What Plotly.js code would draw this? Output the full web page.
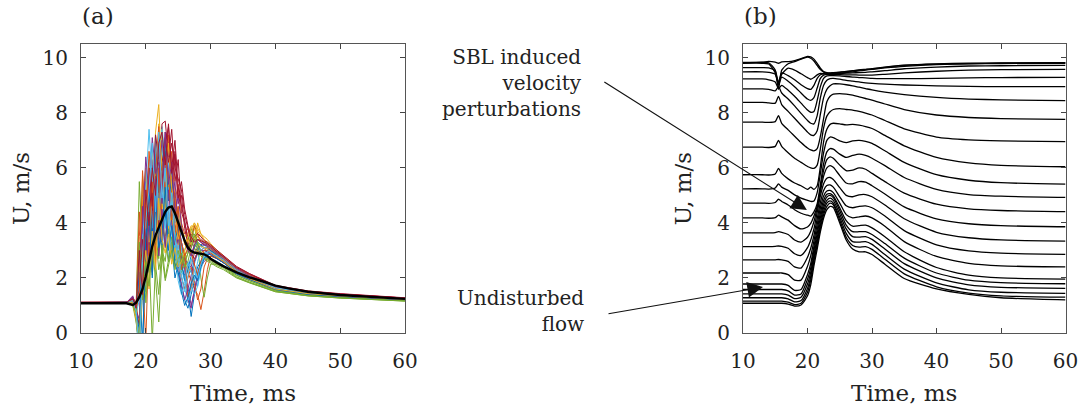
<!DOCTYPE html>
<html>
<head>
<meta charset="utf-8">
<script src="https://cdn.plot.ly/plotly-3.0.1.min.js"></script>
<style>html,body{margin:0;padding:0;background:#fff;}#chart{width:1085px;height:414px;}</style>
</head>
<body>
<div id="chart"></div>
<script>
// ---------- Panel (a): individual realisations and their mean ----------
const tA = [10,17,18,18.5,19,19.5,20,20.5,21,21.5,22,22.5,23,23.5,24,24.5,25,25.5,26,26.5,27,27.5,28,28.5,29,29.5,30,31,32,34,36,40,45,50,60];
const runA01 = [1.10,1.10,1.15,0.6,-0.5,2.8,4.5,3.2,5.6,4.1,6.2,3.8,5.0,3.5,4.3,2.9,3.6,2.4,2.1,1.5,0.6,1.4,2.2,2.6,2.9,3.0,2.95,2.75,2.6,2.25,2.0,1.62,1.45,1.36,1.22];
const runA02 = [1.10,1.12,1.25,0.9,3.5,5.2,2.6,4.8,3.3,6.4,4.6,7.1,5.3,6.0,4.4,5.1,3.8,3.1,2.6,2.2,1.9,1.6,1.4,0.85,1.5,2.3,2.8,2.7,2.55,2.2,1.95,1.6,1.42,1.33,1.2];
const runA03 = [1.08,1.10,1.20,1.0,1.8,4.6,3.1,5.5,4.0,7.3,8.3,5.6,6.8,4.9,5.7,4.2,4.6,3.7,3.4,3.1,3.6,4.0,3.7,3.5,3.4,3.3,3.2,2.95,2.75,2.35,2.1,1.7,1.5,1.4,1.25];
const runA04 = [1.10,1.10,1.35,0.7,-0.3,3.9,2.2,5.1,3.6,4.4,6.9,5.2,4.7,6.1,3.9,4.6,3.2,2.8,2.3,1.7,1.0,1.5,2.0,2.4,2.6,2.7,2.65,2.5,2.4,2.15,1.95,1.6,1.43,1.34,1.21];
const runA05 = [1.10,1.10,1.05,0.8,5.5,3.0,4.2,2.5,3.9,3.2,4.8,2.7,3.5,4.2,3.0,3.6,2.8,3.1,2.6,2.9,3.3,3.9,3.2,2.0,1.3,2.0,2.5,2.5,2.4,2.1,1.9,1.55,1.38,1.3,1.18];
const runA06 = [1.10,1.11,1.20,0.9,2.2,5.6,3.7,6.3,4.9,7.0,5.3,7.5,6.2,5.0,6.1,4.0,4.5,3.0,2.4,1.1,1.6,2.3,1.7,2.5,2.8,3.0,3.0,2.85,2.7,2.3,2.05,1.66,1.48,1.4,1.26];
const runA07 = [1.12,1.12,1.20,0.95,2.4,4.1,5.9,3.5,4.8,6.7,5.1,7.6,7.7,6.4,7.4,5.5,6.3,4.4,4.0,3.5,3.1,3.4,3.5,3.4,3.3,3.25,3.15,2.95,2.8,2.4,2.15,1.72,1.52,1.42,1.27];
const runA08 = [1.09,1.10,1.15,1.0,1.3,2.0,3.4,2.6,4.7,3.9,5.4,4.6,6.6,5.1,5.9,4.3,4.0,3.3,2.8,2.4,2.2,2.6,3.0,3.2,3.3,3.2,3.1,2.9,2.75,2.3,2.05,1.65,1.47,1.38,1.24];
const runA09 = [1.10,1.10,1.30,1.1,0.2,2.4,5.8,3.9,2.7,4.6,3.4,5.8,4.2,5.5,6.6,4.8,5.4,4.0,3.6,3.8,3.4,3.9,3.6,3.3,3.2,3.15,3.1,2.9,2.7,2.3,2.05,1.65,1.46,1.37,1.23];
const runA10 = [1.10,1.11,1.10,0.7,-0.4,3.3,5.0,2.8,4.2,6.0,3.5,7.4,4.8,5.6,3.7,4.9,3.3,2.6,3.0,2.2,2.6,3.0,4.0,3.6,3.4,3.25,3.1,2.85,2.7,2.3,2.05,1.64,1.46,1.37,1.23];
const runA11 = [1.10,1.10,1.25,0.9,3.1,1.6,4.3,3.0,5.5,3.9,4.7,3.3,5.9,4.4,3.7,2.8,3.5,2.7,2.4,1.2,0.9,1.6,2.1,2.5,2.8,2.9,2.9,2.75,2.6,2.25,2.0,1.62,1.44,1.35,1.21];
const runA12 = [1.10,1.09,1.0,0.85,1.4,2.9,2.1,4.0,2.7,3.6,2.3,3.0,2.6,3.8,2.9,3.3,2.5,2.9,3.0,3.4,3.8,3.5,3.2,3.0,2.9,2.8,2.7,2.55,2.45,2.1,1.9,1.55,1.38,1.3,1.18];
const runA13 = [1.10,1.10,1.20,0.6,-0.6,4.4,2.9,6.1,3.8,7.2,5.9,6.8,4.5,5.3,3.6,2.7,3.2,2.1,1.6,1.2,1.9,2.5,2.9,3.1,3.2,3.1,3.0,2.85,2.7,2.3,2.05,1.66,1.48,1.39,1.26];
const runA14 = [1.11,1.12,1.25,0.8,1.9,5.0,3.3,4.6,6.1,4.2,7.0,5.6,7.3,6.9,5.2,6.6,4.7,5.0,3.8,3.2,2.8,3.2,3.4,3.3,3.2,3.2,3.1,2.9,2.75,2.35,2.1,1.7,1.5,1.41,1.27];
const runA15 = [1.10,1.10,1.2,0.5,-0.8,1.5,3.0,2.2,3.8,2.8,4.0,3.0,4.4,2.6,3.2,2.0,2.5,1.7,1.2,0.9,1.4,1.9,2.4,2.6,2.7,2.75,2.7,2.6,2.45,2.15,1.95,1.58,1.4,1.32,1.2];
const runA16 = [1.10,1.11,1.15,1.0,2.6,1.7,4.6,3.5,5.2,2.9,4.9,3.6,5.8,4.1,3.0,3.9,2.6,2.0,1.6,2.0,2.4,1.8,1.2,1.6,2.4,2.7,2.8,2.7,2.55,2.2,1.98,1.6,1.43,1.34,1.21];
const runA17 = [1.10,1.10,1.05,1.1,2.0,5.7,3.4,4.7,2.5,3.9,6.3,4.5,5.1,3.8,4.4,3.4,4.0,3.8,3.5,3.6,3.9,3.8,3.5,3.35,3.3,3.2,3.1,2.9,2.75,2.35,2.08,1.68,1.49,1.39,1.24];
const runA18 = [1.10,1.10,1.30,1.0,2.0,3.2,5.5,4.0,6.3,4.9,5.6,7.0,5.9,6.6,4.8,5.5,3.9,3.3,2.7,2.5,2.4,2.9,3.1,3.2,3.2,3.15,3.05,2.85,2.7,2.3,2.05,1.64,1.46,1.37,1.23];
const runA19 = [1.09,1.10,1.00,0.4,-0.5,2.3,1.5,3.2,2.1,3.6,2.7,4.3,3.3,2.6,3.5,2.4,2.9,2.2,2.5,2.9,3.4,3.1,2.9,2.8,2.75,2.7,2.65,2.5,2.4,2.05,1.85,1.52,1.36,1.28,1.17];
const runA20 = [1.10,1.11,1.25,0.9,1.7,3.6,2.4,4.8,5.9,3.7,6.6,7.4,5.5,6.2,4.6,3.5,2.9,2.3,1.9,1.4,1.7,1.4,1.7,2.3,2.7,2.9,2.95,2.8,2.65,2.28,2.03,1.65,1.47,1.38,1.25];
const runA21 = [1.11,1.11,1.15,0.7,0.3,1.8,3.8,2.6,4.4,5.7,3.9,6.2,6.9,7.5,6.0,7.0,5.3,4.6,4.1,3.3,2.9,2.7,2.9,3.0,3.1,3.1,3.0,2.8,2.65,2.28,2.03,1.65,1.47,1.38,1.24];
const runA22 = [1.10,1.10,1.18,0.8,0.1,-0.4,2.6,5.3,3.1,6.5,4.4,5.7,7.0,4.8,5.6,3.3,3.9,2.6,1.9,2.3,2.8,3.1,3.3,3.2,3.1,3.05,3.0,2.85,2.7,2.3,2.05,1.66,1.48,1.39,1.25];
const runA23 = [1.10,1.11,1.22,0.95,4.4,2.1,-0.3,3.6,5.9,2.4,6.0,4.2,4.9,7.2,5.0,3.7,4.6,2.3,2.9,1.3,1.7,2.6,3.0,2.9,3.0,3.0,2.9,2.75,2.6,2.25,2.0,1.62,1.45,1.36,1.22];
const runA24 = [1.10,1.10,1.15,0.9,2.9,4.9,6.0,3.3,6.7,5.0,7.6,6.1,4.4,6.9,5.3,4.5,3.4,3.9,3.2,3.5,3.8,4.0,3.8,3.6,3.5,3.4,3.25,3.0,2.8,2.38,2.12,1.7,1.5,1.4,1.25];
const runA25 = [1.10,1.10,1.28,0.8,0.5,4.6,1.9,4.1,2.2,5.6,2.8,4.5,3.1,5.2,4.0,3.1,2.2,1.8,1.2,1.6,2.1,2.6,2.9,3.0,3.0,2.95,2.85,2.7,2.55,2.2,1.97,1.6,1.43,1.34,1.21];
const runA26 = [1.10,1.10,1.00,0.6,-0.2,3.5,1.1,2.8,-0.3,2.5,1.4,3.2,2.0,2.7,3.3,2.6,3.0,2.5,2.8,3.0,3.6,3.4,3.0,2.8,2.7,2.65,2.6,2.45,2.35,2.02,1.83,1.5,1.35,1.27,1.16];
const runA27 = [1.10,1.11,1.22,0.7,1.2,3.2,5.2,7.4,5.5,6.8,4.1,5.9,3.8,4.6,2.7,3.2,1.9,1.4,1.8,2.6,2.2,1.9,2.6,3.0,3.1,3.1,3.05,2.9,2.72,2.32,2.06,1.66,1.48,1.39,1.26];
const runA28 = [1.11,1.12,1.22,1.0,1.6,3.4,2.5,6.0,4.6,7.2,6.3,5.4,7.1,6.2,6.9,6.0,5.6,5.2,4.3,3.8,3.3,3.5,3.6,3.5,3.35,3.3,3.2,3.0,2.82,2.42,2.16,1.73,1.53,1.43,1.28];
const runA29 = [1.10,1.10,1.12,0.9,2.2,-0.5,3.5,4.4,2.0,5.0,3.1,3.6,5.3,3.0,3.9,2.5,2.2,1.5,1.0,1.3,1.8,2.1,1.9,2.4,2.7,2.85,2.85,2.7,2.55,2.2,1.97,1.6,1.42,1.34,1.21];
const runA30 = [1.10,1.10,1.20,0.85,1.5,5.9,3.8,6.6,5.1,5.8,7.5,5.2,6.4,5.7,4.1,4.9,3.6,3.3,2.8,3.1,2.9,2.5,2.1,2.6,3.0,3.1,3.05,2.88,2.7,2.3,2.05,1.65,1.47,1.38,1.24];
const runA31 = [1.10,1.10,1.10,0.5,-0.6,1.8,3.0,1.6,3.7,2.3,4.9,3.4,2.9,3.6,2.5,3.1,2.4,2.6,3.0,3.4,3.2,3.5,3.3,3.15,3.1,3.05,2.95,2.75,2.6,2.22,1.98,1.6,1.43,1.35,1.22];
const runA32 = [1.10,1.10,1.32,0.9,2.7,3.9,6.4,5.0,7.1,5.8,6.2,4.7,7.3,5.4,6.2,4.3,5.0,3.9,3.3,3.0,2.8,3.2,3.4,3.3,3.25,3.2,3.1,2.9,2.75,2.35,2.08,1.68,1.49,1.39,1.24];
const runA33 = [1.09,1.09,1.02,0.75,3.3,1.2,2.6,1.7,3.1,2.0,0.4,2.8,1.9,2.4,3.0,2.3,2.7,2.9,2.4,2.6,3.1,3.6,3.3,2.9,2.7,2.6,2.55,2.4,2.3,2.0,1.82,1.5,1.35,1.27,1.16];
const runA34 = [1.10,1.10,1.18,0.8,-0.7,2.6,4.1,5.2,6.9,4.4,7.3,4.9,6.0,3.9,5.1,3.4,2.6,2.0,1.5,2.1,2.7,2.3,2.0,2.5,2.8,2.95,2.95,2.8,2.65,2.28,2.03,1.64,1.47,1.38,1.25];
const runA35 = [1.11,1.11,1.25,0.9,3.0,1.4,5.2,3.9,6.0,5.0,6.9,7.3,6.1,7.6,5.8,6.5,4.9,5.5,4.5,3.9,3.5,3.3,3.4,3.35,3.3,3.25,3.15,2.95,2.78,2.38,2.13,1.71,1.51,1.41,1.27];
const tMean = [10,17,18,18.5,19,19.5,20,20.5,21,21.5,22,22.5,23,23.5,24,24.5,25,25.5,26,26.5,27,27.5,28,28.5,29,29.5,30,31,32,34,36,38,40,42,45,50,55,60];
const meanA = [1.08,1.08,1.02,1.1,1.3,1.6,2.05,2.65,3.15,3.55,3.85,4.15,4.4,4.56,4.6,4.35,4.0,3.65,3.35,3.1,2.98,2.92,2.9,2.88,2.86,2.8,2.7,2.55,2.42,2.2,2.02,1.88,1.72,1.62,1.5,1.38,1.3,1.24];

// ---------- Panel (b): velocity at increasing heights ----------
const tB = [10,13,14,15,15.5,16,17,18,19,20,20.5,21,21.5,22,22.5,23,23.5,24,25,26,27,28,29,30,32,35,40,45,50,60];
const b00 = [9.83,9.84,9.87,9.84,9.80,9.85,9.86,9.90,9.97,10.05,10.03,9.95,9.80,9.62,9.50,9.46,9.45,9.46,9.48,9.50,9.53,9.56,9.58,9.60,9.66,9.73,9.78,9.80,9.81,9.82];
const b01 = [9.82,9.83,9.82,9.55,8.85,9.55,9.78,9.86,9.95,10.02,9.98,9.88,9.72,9.57,9.48,9.44,9.44,9.45,9.47,9.49,9.52,9.55,9.57,9.59,9.65,9.72,9.77,9.79,9.80,9.81];
const b02 = [9.80,9.80,9.78,9.45,9.05,9.40,9.62,9.55,9.42,9.28,9.22,9.28,9.38,9.43,9.42,9.41,9.41,9.42,9.44,9.46,9.49,9.52,9.55,9.58,9.63,9.69,9.75,9.78,9.79,9.80];
const b03 = [9.64,9.64,9.63,9.52,9.10,9.45,9.35,9.20,9.02,8.88,8.85,9.00,9.25,9.38,9.42,9.41,9.41,9.42,9.43,9.44,9.45,9.46,9.47,9.49,9.53,9.60,9.66,9.70,9.71,9.72];
const b04 = [9.49,9.49,9.47,9.40,9.00,9.30,9.15,8.95,8.72,8.50,8.45,8.55,8.90,9.25,9.37,9.40,9.40,9.40,9.39,9.38,9.38,9.37,9.37,9.37,9.40,9.45,9.51,9.55,9.57,9.58];
const b05 = [9.23,9.23,9.20,9.12,8.88,9.00,8.82,8.60,8.35,8.10,8.02,8.05,8.45,8.95,9.25,9.34,9.35,9.35,9.34,9.32,9.30,9.28,9.27,9.25,9.24,9.24,9.25,9.27,9.28,9.29];
const b06 = [8.87,8.87,8.85,8.80,8.95,8.72,8.50,8.25,7.98,7.72,7.62,7.60,7.90,8.55,9.00,9.18,9.24,9.25,9.22,9.18,9.15,9.12,9.09,9.07,9.04,9.01,8.98,8.96,8.95,8.95];
const b07 = [8.38,8.38,8.36,8.35,8.60,8.30,8.05,7.80,7.55,7.30,7.20,7.18,7.35,7.95,8.55,8.85,8.98,9.05,9.05,9.02,8.98,8.93,8.88,8.83,8.75,8.66,8.56,8.50,8.47,8.44];
const b08 = [7.66,7.66,7.65,7.68,7.90,7.62,7.38,7.15,6.92,6.72,6.65,6.62,6.70,7.15,7.80,8.40,8.60,8.68,8.70,8.68,8.64,8.58,8.52,8.46,8.32,8.12,7.92,7.83,7.79,7.76];
const b09 = [6.75,6.75,6.74,6.78,7.00,6.78,6.55,6.35,6.20,6.05,6.00,5.98,6.10,6.70,7.45,7.88,8.04,8.12,8.15,8.12,8.10,8.05,7.99,7.92,7.72,7.42,7.12,7.02,6.98,6.95];
const b10 = [5.75,5.75,5.74,5.78,5.98,5.80,5.60,5.45,5.35,5.22,5.30,5.22,5.35,6.05,6.95,7.40,7.58,7.62,7.60,7.56,7.58,7.55,7.50,7.43,7.18,6.80,6.38,6.18,6.09,6.04];
const b11 = [5.24,5.24,5.23,5.27,5.42,5.30,5.18,5.02,4.90,4.82,4.78,4.80,5.10,5.80,6.55,7.00,7.12,7.10,6.98,6.92,6.98,7.00,6.96,6.89,6.62,6.20,5.75,5.55,5.46,5.41];
const b12 = [4.72,4.72,4.71,4.74,4.86,4.78,4.65,4.48,4.35,4.28,4.25,4.40,4.70,5.40,6.15,6.58,6.70,6.68,6.50,6.38,6.45,6.50,6.45,6.35,6.08,5.65,5.22,5.03,4.97,4.93];
const b13 = [4.18,4.18,4.17,4.19,4.28,4.22,4.10,3.90,3.78,3.85,3.98,4.25,4.60,5.25,5.92,6.30,6.40,6.35,6.10,5.90,5.92,6.00,5.95,5.80,5.50,5.08,4.68,4.51,4.45,4.41];
const b14 = [3.64,3.64,3.64,3.65,3.68,3.66,3.58,3.38,3.30,3.48,3.70,4.05,4.55,5.15,5.70,6.00,6.08,6.02,5.72,5.45,5.42,5.50,5.48,5.35,5.05,4.58,4.15,3.97,3.90,3.86];
const b15 = [3.14,3.14,3.14,3.15,3.16,3.15,3.08,2.88,2.82,3.10,3.38,3.78,4.38,4.98,5.42,5.62,5.65,5.58,5.28,5.00,4.95,5.02,5.03,4.95,4.65,4.15,3.66,3.46,3.38,3.34];
const b16 = [2.66,2.66,2.66,2.66,2.67,2.66,2.60,2.40,2.36,2.75,3.08,3.55,4.15,4.75,5.18,5.36,5.38,5.30,4.95,4.62,4.55,4.60,4.62,4.55,4.25,3.72,3.20,2.98,2.90,2.86];
const b17 = [2.18,2.18,2.18,2.18,2.18,2.18,2.12,1.92,1.92,2.42,2.80,3.35,3.95,4.55,4.98,5.16,5.18,5.10,4.72,4.30,4.18,4.22,4.25,4.18,3.88,3.32,2.78,2.53,2.44,2.40];
const b18 = [1.78,1.78,1.78,1.78,1.78,1.78,1.73,1.55,1.58,2.12,2.52,3.15,3.76,4.36,4.82,5.04,5.06,4.98,4.55,4.08,3.88,3.90,3.92,3.82,3.50,2.95,2.38,2.10,2.00,1.96];
const b19 = [1.58,1.58,1.58,1.58,1.58,1.58,1.53,1.38,1.42,1.95,2.36,3.00,3.60,4.20,4.68,4.94,5.00,4.92,4.45,3.92,3.68,3.68,3.68,3.58,3.25,2.72,2.18,1.92,1.83,1.79];
const b20 = [1.42,1.42,1.42,1.42,1.42,1.42,1.38,1.25,1.30,1.78,2.20,2.85,3.45,4.05,4.55,4.82,4.90,4.82,4.32,3.78,3.50,3.48,3.50,3.40,3.05,2.52,2.00,1.75,1.66,1.62];
const b21 = [1.28,1.28,1.28,1.28,1.28,1.28,1.24,1.13,1.18,1.62,2.05,2.72,3.32,3.92,4.42,4.72,4.80,4.72,4.20,3.62,3.32,3.30,3.32,3.22,2.85,2.32,1.82,1.57,1.48,1.44];
const b22 = [1.16,1.16,1.16,1.16,1.16,1.16,1.12,1.03,1.08,1.48,1.92,2.60,3.20,3.80,4.30,4.60,4.72,4.66,4.10,3.48,3.18,3.12,3.14,3.04,2.68,2.15,1.68,1.45,1.35,1.30];
const b23 = [1.08,1.08,1.08,1.08,1.08,1.08,1.05,0.98,1.02,1.35,1.75,2.45,3.05,3.68,4.18,4.48,4.60,4.56,4.00,3.38,3.05,2.95,2.95,2.85,2.50,1.98,1.60,1.40,1.28,1.20];

const xTicks = [10,20,30,40,50,60];
const yTicks = [0,2,4,6,8,10];
const xTitle = 'Time, ms';
const yTitle = 'U, m/s';

// ---------- build traces ----------
const matlabColors = ['#0072BD','#D95319','#EDB120','#7E2F8E','#77AC30','#4DBEEE','#A2142F'];
const runsA = [runA01,runA02,runA03,runA04,runA05,runA06,runA07,runA08,runA09,runA10,runA11,runA12,runA13,runA14,runA15,runA16,runA17,runA18,runA19,runA20,runA21,
               runA22,runA23,runA24,runA25,runA26,runA27,runA28,runA29,runA30,runA31,runA32,runA33,runA34,runA35];
const linesB = [b00,b01,b02,b03,b04,b05,b06,b07,b08,b09,b10,b11,b12,b13,b14,b15,b16,b17,b18,b19,b20,b21,b22,b23];

const traces = [];
runsA.forEach((r,i)=>{
  traces.push({x:tA, y:r, type:'scatter', mode:'lines', xaxis:'x', yaxis:'y',
    line:{color:matlabColors[i%7], width:1}, hoverinfo:'skip', showlegend:false});
});
traces.push({x:tMean, y:meanA, type:'scatter', mode:'lines', xaxis:'x', yaxis:'y',
  line:{color:'#000', width:2.4}, showlegend:false});
linesB.forEach(r=>{
  traces.push({x:tB, y:r, type:'scatter', mode:'lines', xaxis:'x2', yaxis:'y2',
    line:{color:'#000', width:1.3, shape:'spline', smoothing:0.6}, showlegend:false});
});

const W = 1085, H = 414;
const fontFam = 'DejaVu Serif, serif';
function xAxis(domain, anchor){
  return {domain:domain, anchor:anchor, range:[10,60], tickvals:xTicks, ticktext:xTicks.map(String),
    ticks:'inside', ticklen:5, tickcolor:'#444', showline:true, linecolor:'#555', linewidth:1, mirror:'ticks',
    showgrid:false, zeroline:false, ticklabelstandoff:10,
    tickfont:{family:fontFam, size:20, color:'#222'},
    title:{text:xTitle, font:{family:fontFam, size:23, color:'#222'}, standoff:12}};
}
function yAxis(domain, anchor){
  return {domain:domain, anchor:anchor, range:[0,10.5], tickvals:yTicks, ticktext:yTicks.map(String),
    ticks:'inside', ticklen:5, tickcolor:'#444', showline:true, linecolor:'#555', linewidth:1, mirror:'ticks',
    showgrid:false, zeroline:false, ticklabelstandoff:8,
    tickfont:{family:fontFam, size:20, color:'#222'},
    title:{text:yTitle, font:{family:fontFam, size:23, color:'#222'}, standoff:6}};
}
const yDom = [1-333/H, 1-44/H];
const layout = {
  width:W, height:H, margin:{l:0,r:0,t:0,b:0}, paper_bgcolor:'#fff', plot_bgcolor:'#fff',
  showlegend:false,
  xaxis: xAxis([81/W, 405/W], 'y'),
  yaxis: yAxis(yDom, 'x'),
  xaxis2: xAxis([743/W, 1065.5/W], 'y2'),
  yaxis2: yAxis(yDom, 'x2'),
  annotations:[
    {text:'(a)', xref:'paper', yref:'paper', x:80/W, y:1-16/H, xanchor:'left', yanchor:'middle', showarrow:false,
     font:{family:fontFam, size:23, color:'#222'}},
    {text:'(b)', xref:'paper', yref:'paper', x:742/W, y:1-16/H, xanchor:'left', yanchor:'middle', showarrow:false,
     font:{family:fontFam, size:23, color:'#222'}},
    {text:'SBL induced<br>velocity<br>perturbations', xref:'paper', yref:'paper', x:584/W, y:1-83/H,
     xanchor:'right', yanchor:'middle', align:'right', showarrow:false,
     font:{family:fontFam, size:20, color:'#222'}},
    {text:'Undisturbed<br>flow', xref:'paper', yref:'paper', x:586/W, y:1-311/H,
     xanchor:'right', yanchor:'middle', align:'right', showarrow:false,
     font:{family:fontFam, size:20, color:'#222'}},
    {text:'', xref:'x2', yref:'y2', x:19.9, y:4.47, ax:-204, ay:-129, axref:'pixel', ayref:'pixel',
     showarrow:true, arrowhead:2, arrowsize:2.6, arrowwidth:1.2, arrowcolor:'#111', standoff:0},
    {text:'', xref:'x2', yref:'y2', x:13.1, y:1.67, ax:-156, ay:27, axref:'pixel', ayref:'pixel',
     showarrow:true, arrowhead:2, arrowsize:2.6, arrowwidth:1.2, arrowcolor:'#111', standoff:0}
  ]
};
Plotly.newPlot('chart', traces, layout, {staticPlot:true, displayModeBar:false});
</script>
</body>
</html>
